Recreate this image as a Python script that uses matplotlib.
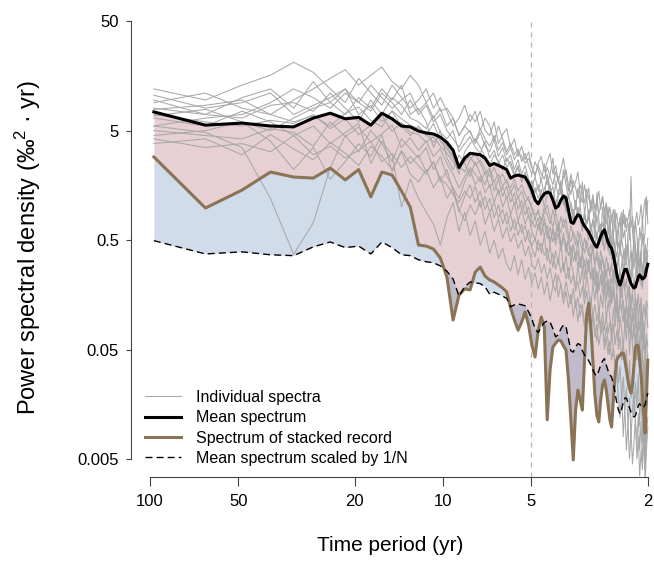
import matplotlib.pyplot as plt
import numpy as np
from matplotlib.ticker import FixedLocator, FixedFormatter, NullLocator


plt.rcParams["font.family"] = ["Liberation Sans", "DejaVu Sans"]
plt.rcParams["mathtext.fontset"] = "custom"
plt.rcParams["mathtext.rm"] = "Liberation Sans"
plt.rcParams["mathtext.it"] = "Liberation Sans:italic"

# spectral estimates sit on harmonics k / record length
record_length = 194
harmonics = np.arange(2, 98)

x_ticks = [100, 50, 20, 10, 5, 2]
y_ticks = [50, 5, 0.5, 0.05, 0.005]
y_tick_labels = ["50", "5", "0.5", "0.05", "0.005"]

mean_spectrum = [
    7.4, 5.6, 5.85, 5.5, 5.4, 6.5, 7.2, 6.4, 6.6, 5.6, 7.2, 6.4, 5.5, 5.4,
    4.95, 4.75, 4.65, 4.35, 3.9, 3.3, 2.3, 2.8, 3.1, 3.05,
    3.0, 2.8, 2.4, 2.5, 2.4, 2.3, 2.2, 1.84, 1.92, 1.96,
    1.92, 1.88, 1.66, 1.43, 1.16,
    1.07, 1.21, 1.32, 1.37, 1.34, 1.16, 0.98, 1.02, 1.16, 1.26,
    1.21, 0.94, 0.73, 0.71, 0.79, 0.85, 0.83, 0.73, 0.67, 0.63,
    0.59, 0.54, 0.49, 0.45, 0.43, 0.48, 0.54, 0.59, 0.62, 0.54,
    0.48, 0.44, 0.42, 0.365, 0.30, 0.245, 0.21, 0.194, 0.215, 0.245,
    0.27, 0.27, 0.245, 0.22, 0.20, 0.19, 0.182, 0.186, 0.207, 0.23,
    0.24, 0.23, 0.22, 0.225, 0.235, 0.27, 0.30,
]

stacked_spectrum = [
    2.87, 0.98, 1.43, 2.09, 1.88, 1.84, 2.27, 1.77, 2.2, 1.24, 2.09, 1.96, 1.40, 1.0,
    0.45, 0.44, 0.414, 0.343, 0.23, 0.093, 0.157, 0.179, 0.175, 0.255,
    0.283, 0.234, 0.216, 0.207, 0.194, 0.182, 0.168, 0.12, 0.093, 0.075,
    0.089, 0.11, 0.084, 0.055, 0.0427,
    0.075, 0.099, 0.08, 0.0114, 0.0325, 0.0526, 0.057, 0.061, 0.06, 0.054,
    0.0495, 0.0263, 0.0114, 0.0049, 0.014, 0.0213, 0.0173, 0.014, 0.04, 0.103,
    0.133, 0.08, 0.04, 0.0192, 0.0126, 0.0109, 0.0173, 0.0237, 0.0263, 0.0213,
    0.0156, 0.0114, 0.0098, 0.0173, 0.0292, 0.04, 0.0427, 0.0446, 0.0464, 0.0464,
    0.04, 0.0325, 0.0263, 0.0222, 0.02, 0.0237, 0.0361, 0.0526, 0.055, 0.054,
    0.04, 0.0292, 0.0192, 0.0126, 0.0086, 0.0192, 0.04,
]

individual_spectra = [
    [12, 9.5, 13, 16, 21, 17, 12, 9, 15, 11, 8.5, 13, 10, 8,
     9.5, 12, 8, 10, 7.5, 5.5, 6.5, 8.5, 6, 7.5,
     5, 6.5, 5.5, 4, 5.5, 4.2, 3.2, 3.8, 3, 3.4,
     2.6, 3.1, 2.4, 2.0, 2.6,
     2.2, 1.7, 2.5, 1.6, 2.0, 2.8, 1.5, 1.9, 1.3, 2.2,
     1.6, 1.2, 1.8, 1.35, 0.95, 1.5, 1.05, 1.7, 0.85, 1.25,
     0.75, 1.15, 0.95, 0.62, 1.35, 0.78, 0.52, 1.0, 0.62, 1.05,
     0.57, 0.84, 0.47, 0.72, 0.95, 0.52, 0.68, 0.36, 0.82, 0.52,
     0.62, 0.31, 0.57, 0.72, 0.41, 0.26, 0.62, 0.46, 0.31, 0.52,
     0.21, 0.41, 0.57, 0.31, 0.46, 0.36, 0.52],
    [9, 11, 8, 7, 9.5, 12, 15, 18, 13, 16, 19, 14, 12, 16,
     13, 9, 11, 7.5, 8, 6.5, 4.5, 5.5, 7, 6,
     7.5, 5, 4.5, 6, 3.8, 4.6, 5.2, 3.5, 4.2, 2.9,
     3.6, 2.7, 3.2, 2.3, 1.9,
     2.5, 2.9, 2.1, 2.6, 3.1, 2.0, 2.4, 1.7, 2.2, 2.8,
     1.9, 1.4, 2.0, 1.5, 1.7, 2.1, 1.3, 1.1, 1.6, 1.2,
     1.5, 0.9, 1.2, 0.8, 1.1, 1.4, 0.95, 1.25, 0.85, 0.7,
     1.0, 0.6, 0.85, 0.55, 0.75, 0.45, 0.6, 0.8, 0.5, 0.95,
     0.65, 0.8, 0.7, 0.5, 1.9, 0.6, 0.42, 0.75, 0.55, 0.35,
     0.65, 0.5, 0.8, 0.45, 0.6, 1.25, 0.7],
    [10.5, 8, 9, 11, 7, 8.5, 10, 12, 9, 7.5, 11, 9, 7, 9.5,
     7, 8.5, 6, 7, 5, 4.2, 3.5, 4.5, 5, 3.8,
     4.8, 3.6, 3.2, 4.1, 2.9, 3.5, 2.6, 3.0, 2.2, 2.7,
     2.0, 2.4, 1.8, 1.5, 1.9,
     1.4, 1.8, 1.25, 2.0, 1.5, 1.1, 1.6, 1.3, 1.75, 1.2,
     0.9, 1.3, 1.0, 0.75, 1.15, 0.8, 1.05, 0.65, 0.9, 0.7,
     0.95, 0.6, 0.78, 0.52, 0.85, 0.6, 0.7, 0.45, 0.82, 0.55,
     0.4, 0.62, 0.33, 0.5, 0.38, 0.58, 0.3, 0.44, 0.36, 0.25,
     0.42, 0.3, 0.5, 0.28, 0.22, 0.38, 0.27, 0.45, 0.2, 0.33,
     0.26, 0.4, 0.18, 0.3, 0.38, 0.24, 0.32],
    [5.5, 4.8, 3.5, 1.2, 0.37, 0.72, 2.3, 4.5, 3.2, 5, 3.8, 2.6, 4.2, 3.4,
     2.8, 3.5, 2.2, 2.9, 1.9, 1.5, 1.2, 1.7, 2.2, 1.6,
     1.9, 1.35, 1.6, 1.1, 1.45, 1.0, 1.25, 0.85, 1.1, 0.75,
     0.95, 0.7, 0.85, 0.6, 0.5,
     0.7, 0.55, 0.8, 0.6, 0.45, 0.65, 0.5, 0.72, 0.42, 0.58,
     0.38, 0.52, 0.3, 0.45, 0.35, 0.5, 0.28, 0.4, 0.22, 0.34,
     0.26, 0.38, 0.2, 0.3, 0.16, 0.25, 0.33, 0.19, 0.28, 0.14,
     0.22, 0.12, 0.18, 0.26, 0.1, 0.16, 0.09, 0.14, 0.2, 0.11,
     0.08, 0.13, 0.1, 0.17, 0.07, 0.12, 0.09, 0.15, 0.06, 0.1,
     0.13, 0.07, 0.11, 0.05, 0.09, 0.12, 0.08],
    [4.5, 5, 6, 4, 2.2, 3.5, 1.8, 2.6, 3.8, 2.9, 4.6, 2.1, 3.3, 2.5,
     3.0, 2.1, 2.6, 1.7, 2.2, 1.4, 0.9, 1.25, 1.6, 1.1,
     1.4, 0.95, 1.2, 0.8, 1.05, 0.7, 0.9, 0.6, 0.78, 0.55,
     0.7, 0.48, 0.62, 0.42, 0.35,
     0.5, 0.38, 0.55, 0.32, 0.45, 0.28, 0.4, 0.3, 0.48, 0.26,
     0.36, 0.22, 0.33, 0.25, 0.18, 0.3, 0.2, 0.27, 0.15, 0.24,
     0.17, 0.12, 0.2, 0.14, 0.22, 0.1, 0.16, 0.12, 0.19, 0.09,
     0.14, 0.1, 0.07, 0.12, 0.08, 0.13, 0.06, 0.1, 0.075, 0.05,
     0.09, 0.06, 0.11, 0.045, 0.08, 0.055, 0.035, 0.07, 0.04, 0.06,
     0.03, 0.05, 0.02, 0.04, 0.012, 0.03, 0.045],
    [8, 7, 6.5, 8.5, 9, 7.5, 11, 8, 6, 9.5, 7, 10, 8.5, 6.5,
     6, 5.2, 6.8, 4.8, 4.2, 5, 3.2, 3.8, 4.4, 3.5,
     3.1, 4.0, 2.8, 3.3, 2.5, 3.0, 2.3, 2.6, 2.0, 2.4,
     1.7, 2.1, 1.55, 1.25, 1.5,
     1.2, 1.45, 1.0, 1.3, 1.6, 1.1, 0.9, 1.25, 1.4, 1.05,
     1.3, 0.85, 0.7, 0.95, 0.75, 1.0, 0.8, 0.6, 0.85, 0.62,
     0.5, 0.7, 0.55, 0.42, 0.6, 0.45, 0.65, 0.52, 0.4, 0.58,
     0.44, 0.36, 0.5, 0.3, 0.4, 0.26, 0.34, 0.22, 0.3, 0.38,
     0.28, 0.34, 0.24, 0.3, 0.2, 0.27, 0.18, 0.25, 0.32, 0.21,
     0.29, 0.19, 0.26, 0.33, 0.22, 0.3, 0.36],
    [7, 6, 5.5, 6.2, 5.8, 7, 5.2, 6.4, 4.6, 5.6, 6.8, 4.9, 5.9, 4.8,
     4.6, 3.9, 4.4, 3.6, 3.1, 2.6, 2.2, 2.6, 2.9, 2.4,
     2.7, 2.2, 1.9, 2.3, 1.8, 2.0, 1.65, 1.5, 1.8, 1.4,
     1.6, 1.3, 1.15, 1.0, 0.85,
     0.9, 0.75, 1.0, 0.85, 0.7, 0.95, 0.72, 0.6, 0.82, 0.65,
     0.78, 0.55, 0.48, 0.6, 0.52, 0.44, 0.58, 0.46, 0.38, 0.5,
     0.4, 0.33, 0.45, 0.3, 0.36, 0.28, 0.4, 0.32, 0.26, 0.35,
     0.29, 0.24, 0.31, 0.2, 0.26, 0.17, 0.23, 0.15, 0.2, 0.25,
     0.18, 0.22, 0.15, 0.19, 0.13, 0.17, 0.21, 0.14, 0.12, 0.16,
     0.11, 0.15, 0.09, 0.13, 0.1, 0.14, 0.12],
    [5, 4.5, 4.2, 5.2, 4.8, 3.6, 6, 4.4, 5.4, 3.9, 4.7, 5.6, 3.5, 4.3,
     3.3, 4.0, 2.9, 3.4, 2.5, 2.0, 1.5, 1.9, 2.3, 2.0,
     1.7, 2.1, 1.5, 1.75, 1.3, 1.55, 1.2, 1.4, 1.05, 1.25,
     0.95, 1.1, 0.82, 0.7, 0.8,
     0.62, 0.75, 0.55, 0.68, 0.5, 0.6, 0.45, 0.58, 0.4, 0.52,
     0.47, 0.36, 0.44, 0.32, 0.38, 0.29, 0.35, 0.27, 0.33, 0.24,
     0.3, 0.22, 0.27, 0.19, 0.25, 0.17, 0.22, 0.26, 0.18, 0.21,
     0.15, 0.19, 0.13, 0.17, 0.12, 0.15, 0.1, 0.14, 0.11, 0.09,
     0.12, 0.08, 0.11, 0.07, 0.1, 0.06, 0.085, 0.05, 0.075, 0.04,
     0.065, 0.03, 0.055, 0.02, 0.045, 0.015, 0.035],
    [4.2, 3.5, 3.8, 3.2, 4.5, 3.0, 3.6, 2.8, 3.3, 4.0, 2.6, 3.1, 2.3, 2.9,
     2.4, 2.0, 2.6, 1.8, 1.6, 1.3, 1.1, 1.4, 1.2, 1.55,
     1.0, 1.25, 0.9, 1.1, 0.8, 0.95, 0.7, 0.85, 0.62, 0.75,
     0.58, 0.68, 0.5, 0.44, 0.52,
     0.4, 0.47, 0.36, 0.42, 0.3, 0.38, 0.27, 0.34, 0.25, 0.31,
     0.22, 0.28, 0.2, 0.24, 0.17, 0.21, 0.15, 0.19, 0.13, 0.17,
     0.12, 0.15, 0.1, 0.13, 0.09, 0.12, 0.08, 0.11, 0.075, 0.1,
     0.07, 0.09, 0.06, 0.085, 0.055, 0.075, 0.05, 0.065, 0.04, 0.06,
     0.035, 0.05, 0.022, 0.04, 0.018, 0.03, 0.012, 0.025, 0.015, 0.03,
     0.01, 0.022, 0.007, 0.018, 0.005, 0.014, 0.02],
    [6.5, 5.5, 7.5, 6, 4.5, 5.5, 3.8, 4.8, 5.8, 2.5, 4, 3, 1.0, 1.8,
     1.2, 0.9, 0.7, 0.45, 0.8, 1.1, 0.6, 0.9, 0.55, 0.75,
     0.45, 0.6, 0.38, 0.5, 0.34, 0.42, 0.3, 0.26, 0.36, 0.24,
     0.33, 0.22, 0.28, 0.2, 0.25,
     0.18, 0.23, 0.16, 0.21, 0.14, 0.19, 0.25, 0.15, 0.2, 0.13,
     0.17, 0.12, 0.16, 0.1, 0.14, 0.09, 0.13, 0.11, 0.08, 0.12,
     0.09, 0.07, 0.11, 0.08, 0.06, 0.1, 0.07, 0.09, 0.055, 0.08,
     0.06, 0.045, 0.07, 0.05, 0.038, 0.03, 0.018, 0.012, 0.02, 0.008,
     0.015, 0.006, 0.011, 0.005, 0.009, 0.0045, 0.007, 0.012, 0.005, 0.008,
     0.0035, 0.006, 0.004, 0.009, 0.003, 0.006, 0.01],
    [3.8, 4.2, 3.0, 4.6, 3.4, 2.7, 3.9, 3.1, 2.4, 3.6, 2.9, 2.2, 3.2, 2.0,
     1.7, 2.2, 1.5, 1.9, 1.2, 1.5, 0.95, 0.75, 1.05, 0.85,
     1.15, 0.7, 0.9, 0.6, 0.78, 0.52, 0.66, 0.48, 0.58, 0.42,
     0.5, 0.36, 0.44, 0.3, 0.27,
     0.34, 0.25, 0.3, 0.22, 0.28, 0.2, 0.17, 0.24, 0.19, 0.15,
     0.21, 0.16, 0.13, 0.18, 0.12, 0.15, 0.1, 0.13, 0.085, 0.11,
     0.09, 0.075, 0.1, 0.065, 0.085, 0.055, 0.07, 0.08, 0.05, 0.065,
     0.045, 0.06, 0.04, 0.052, 0.034, 0.045, 0.025, 0.035, 0.018, 0.028,
     0.014, 0.022, 0.01, 0.018, 0.008, 0.014, 0.02, 0.011, 0.007, 0.013,
     0.006, 0.011, 0.0045, 0.009, 0.004, 0.008, 0.012],
    [6.8, 7.8, 6, 5, 6.5, 8, 9, 7, 10, 8, 12, 9.5, 13, 7,
     8, 6, 3.5, 5, 2.8, 2.2, 3.0, 2.5, 1.9, 2.6,
     2.0, 1.6, 2.2, 1.4, 1.8, 1.25, 1.55, 1.1, 1.35, 0.95,
     1.15, 0.85, 1.0, 0.75, 0.65,
     0.8, 0.6, 0.72, 0.52, 0.66, 0.48, 0.58, 0.7, 0.45, 0.55,
     0.42, 0.5, 0.36, 0.46, 0.32, 0.4, 0.28, 0.36, 0.3, 0.24,
     0.33, 0.22, 0.28, 0.2, 0.26, 0.18, 0.24, 0.16, 0.21, 0.27,
     0.17, 0.22, 0.14, 0.19, 0.12, 0.17, 0.1, 0.15, 0.11, 0.14,
     0.09, 0.13, 0.08, 0.12, 0.07, 0.11, 0.065, 0.1, 0.06, 0.09,
     0.05, 0.08, 0.045, 0.07, 0.04, 0.065, 0.055],
    [5.5, 6.5, 7, 9, 12, 10, 8, 11, 9, 13, 10, 8, 9.5, 11,
     7.5, 9, 6.5, 8, 5.5, 6.5, 4.5, 5.5, 4.8, 4.0,
     5.2, 4.2, 3.6, 4.5, 3.3, 3.9, 3.0, 3.5, 2.7, 3.2,
     2.9, 2.5, 2.8, 2.3, 2.0,
     2.4, 2.0, 1.8, 2.3, 1.9, 1.6, 2.1, 1.7, 1.45, 1.9,
     2.2, 1.6, 1.3, 1.75, 1.5, 1.2, 1.6, 1.35, 1.1, 1.45,
     1.2, 1.0, 1.3, 0.95, 1.15, 0.85, 1.05, 1.25, 0.9, 1.1,
     0.8, 1.0, 0.75, 0.95, 0.7, 0.88, 0.65, 0.8, 0.9, 0.7,
     0.85, 0.6, 0.78, 0.95, 0.65, 0.82, 0.58, 0.75, 0.9, 0.68,
     0.8, 1.05, 0.72, 0.95, 1.2, 0.85, 1.15],
    [9.5, 7, 10, 12, 8, 14, 9, 12, 7, 8.5, 6, 7.5, 5.5, 4.5,
     5.5, 4.5, 5.8, 4.0, 3.4, 2.8, 2.0, 3.2, 3.8, 4.2,
     3.5, 2.9, 2.4, 3.0, 2.6, 2.2, 2.8, 2.4, 1.9, 2.3,
     1.7, 2.0, 1.5, 1.75, 1.35,
     1.6, 1.2, 1.45, 1.8, 1.3, 1.55, 1.05, 1.35, 1.65, 1.15,
     1.0, 0.8, 1.1, 0.9, 0.72, 0.95, 0.78, 0.65, 0.88, 0.7,
     0.82, 0.58, 0.75, 0.62, 0.5, 0.68, 0.55, 0.72, 0.6, 0.46,
     0.65, 0.5, 0.4, 0.55, 0.42, 0.35, 0.48, 0.38, 0.52, 0.4,
     0.33, 0.45, 0.36, 0.28, 0.4, 0.32, 0.5, 0.35, 0.27, 0.42,
     0.3, 0.38, 0.25, 0.34, 0.45, 0.31, 0.4],
    [7.8, 8.5, 9.5, 7, 6, 6.8, 5.5, 7.2, 8.2, 6.2, 5.4, 7.6, 6.4, 5.6,
     5.2, 4.6, 3.9, 4.4, 3.6, 2.9, 2.4, 2.1, 2.7, 3.1,
     2.5, 2.0, 2.3, 1.7, 2.0, 1.55, 1.8, 1.35, 1.6, 1.2,
     1.4, 1.1, 1.25, 0.95, 0.78,
     0.95, 0.72, 0.88, 1.05, 0.8, 0.66, 0.9, 0.7, 0.58, 0.78,
     0.62, 0.5, 0.68, 0.55, 0.45, 0.6, 0.48, 0.4, 0.52, 0.42,
     0.36, 0.46, 0.38, 0.3, 0.4, 0.32, 0.27, 0.35, 0.28, 0.23,
     0.31, 0.25, 0.2, 0.27, 0.22, 0.18, 0.24, 0.19, 0.15, 0.21,
     0.17, 0.13, 0.19, 0.14, 0.11, 0.16, 0.12, 0.09, 0.14, 0.1,
     0.075, 0.12, 0.06, 0.09, 0.045, 0.07, 0.03],
]

legend_labels = [
    "Individual spectra",
    "Mean spectrum",
    "Spectrum of stacked record",
    "Mean spectrum scaled by 1/N",
]


def main() -> None:
    period = record_length / harmonics
    mean = np.array(mean_spectrum)
    stacked = np.array(stacked_spectrum)
    scaled = mean / len(individual_spectra)

    fig = plt.figure(figsize=(6.54, 5.62), dpi=100)
    ax = fig.add_axes([131 / 654, 85 / 562, 521 / 654, 458 / 562])
    ax.set_xscale("log")
    ax.set_yscale("log")

    ax.fill_between(period, mean, stacked, color=(178 / 255, 102 / 255, 110 / 255),
                    alpha=0.3, linewidth=0)
    ax.fill_between(period, scaled, stacked, color=(100 / 255, 140 / 255, 185 / 255),
                    alpha=0.3, linewidth=0)
    ax.axvline(5, color="#b5b5b5", linewidth=0.9, linestyle=(0, (4, 4)))

    gray_lines = []
    for spec in individual_spectra:
        (ln,) = ax.plot(period, spec, color="#a8a8a8", linewidth=0.75)
        gray_lines.append(ln)
    (mean_ln,) = ax.plot(period, mean, color="black", linewidth=2.2)
    (stack_ln,) = ax.plot(period, stacked, color="#8b7355", linewidth=2.2)
    (scaled_ln,) = ax.plot(period, scaled, color="black", linewidth=1.0,
                           linestyle=(0, (5, 3)))

    ax.set_xlim(116.1, 1.935)
    ax.set_ylim(0.003425, 52.2)

    for side in ["top", "right"]:
        ax.spines[side].set_visible(False)
    ax.spines["left"].set_bounds(0.005, 50)
    ax.spines["bottom"].set_bounds(2, 100)
    for side in ["left", "bottom"]:
        ax.spines[side].set_color("#444444")
        ax.spines[side].set_linewidth(0.8)

    ax.xaxis.set_major_locator(FixedLocator(x_ticks))
    ax.xaxis.set_major_formatter(FixedFormatter([str(t) for t in x_ticks]))
    ax.xaxis.set_minor_locator(NullLocator())
    ax.yaxis.set_major_locator(FixedLocator(y_ticks))
    ax.yaxis.set_major_formatter(FixedFormatter(y_tick_labels))
    ax.yaxis.set_minor_locator(NullLocator())
    ax.tick_params(axis="x", length=6.5, width=0.8, color="#444444", pad=5.5, labelsize=12)
    ax.tick_params(axis="y", length=3.6, width=0.8, color="#444444", pad=5, labelsize=12)

    ax.set_xlabel("Time period (yr)", fontsize=15)
    ax.xaxis.set_label_coords(0.497, -0.128)
    ax.set_ylabel("Power spectral density (‰$^{2}$ · yr)", fontsize=17)
    ax.yaxis.set_label_coords(-0.168, 0.502)

    ax.legend(
        [gray_lines[0], mean_ln, stack_ln, scaled_ln],
        legend_labels,
        loc="upper left",
        bbox_to_anchor=(145 / 654, 1 - 390 / 562),
        bbox_transform=fig.transFigure,
        frameon=False,
        fontsize=11.5,
        handlelength=2.25,
        handletextpad=0.95,
        labelspacing=0.33,
        borderpad=0,
        borderaxespad=0,
    )

    fig.savefig("out.png", dpi=100)
    plt.close(fig)


if __name__ == "__main__":
    main()
